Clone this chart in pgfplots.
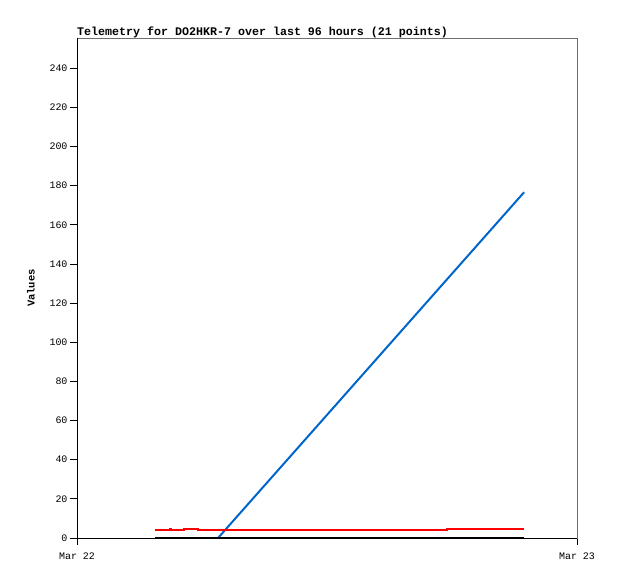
\documentclass[border=0pt]{standalone}
\usepackage{pgfplots}
\pgfplotsset{compat=1.18}
\usepackage{fontspec}
\setmainfont{Liberation Mono}
\definecolor{tblue}{RGB}{0,102,204}
\definecolor{tred}{RGB}{255,0,0}
\definecolor{frame}{RGB}{110,110,110}
\begin{document}
\begin{tikzpicture}[x=1bp,y=1bp]
\path[use as bounding box] (-77bp,-41bp) rectangle (541bp,538bp);
\begin{axis}[
  at={(0,0)}, anchor=south west,
  scale only axis, width=500bp, height=500bp,
  xmin=0, xmax=24, ymin=0, ymax=255.4,
  xtick={0,24}, xticklabels={Mar 22,Mar 23},
  ytick={0,20,...,240},
  xtick pos=bottom, ytick pos=left,
  tick align=outside, major tick length=7bp,
  tick style={black, line width=0.8bp},
  axis line style={frame, line width=0.8bp},
  /pgf/number format/assume math mode=true,
  tick label style={font=\fontsize{10}{12}\selectfont},
  xticklabel style={yshift=-4bp},
  yticklabel style={xshift=1bp},
  ylabel={\textbf{Values}},
  ylabel style={font=\fontsize{10.5}{12}\selectfont, at={(ticklabel cs:0.5)}, yshift=8bp},
  title={\textbf{Telemetry for DO2HKR-7 over last 96 hours (21 points)}},
  title style={font=\fontsize{11.7}{13}\selectfont, at={(0,1)}, anchor=south west, inner xsep=0pt, yshift=-9bp},
  clip=false,
]
\draw[black, line width=0.8bp] (rel axis cs:0,0) -- (rel axis cs:0,1);
\draw[black, line width=0.8bp] (rel axis cs:0,0) -- (rel axis cs:1,0);
\addplot[tblue, line width=2bp] coordinates {
  (6.77,0) (21.46,176.6)
};
\addplot[tred, line width=2bp, const plot] coordinates {
  (3.74,3.9) (4.46,4.6) (4.52,3.9) (4.85,4.2) (5.14,4.75) (5.81,4.2) (6.29,3.9) (10.42,4.2) (17.76,4.75) (21.46,4.75)
};
\addplot[black, line width=2bp] coordinates {
  (3.74,0) (21.46,0)
};
\end{axis}
\end{tikzpicture}
\end{document}
